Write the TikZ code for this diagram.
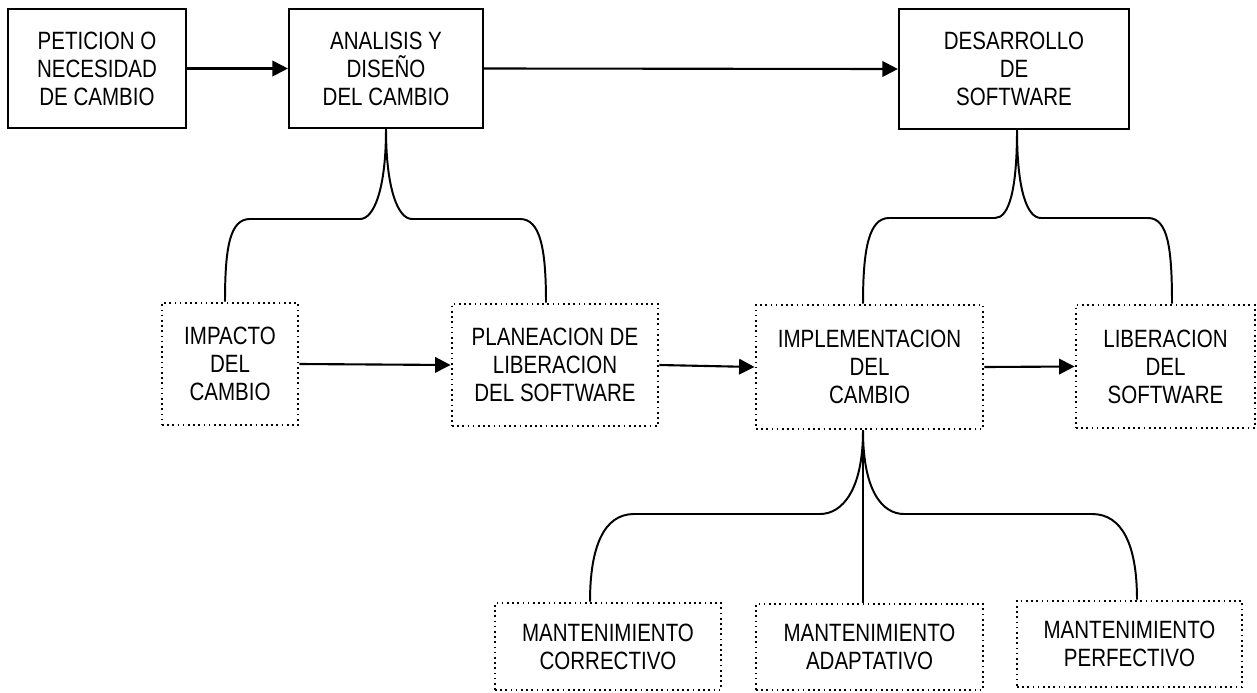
\documentclass[tikz,border=0pt]{standalone}
\usepackage{fontspec}
\setmainfont[FakeStretch=0.82]{Liberation Sans}
\usepackage{tikz}
\usetikzlibrary{arrows.meta,calc}

\tikzset{
  caja/.style={draw, line width=1.5pt, align=center, inner sep=0pt,
    font=\fontsize{17.8}{19.9}\selectfont},
  cajapunto/.style={caja, line width=2pt, dash pattern=on 1.2pt off 2.5pt},
  flecha/.style={line width=1.5pt, -{Triangle[length=11pt,width=11pt]}},
  llave/.style={line width=1.4pt},
}

\begin{document}
\begin{tikzpicture}[x=0.025cm, y=-0.025cm]
        \useasboundingbox (0,0) rectangle (1257,692);

        \node [caja, minimum width=4.45cm, minimum height=2.975cm] (pet) at (97,68.5)
          {PETICION O\\NECESIDAD\\DE CAMBIO};
        \node [caja, minimum width=4.85cm, minimum height=2.975cm] (ana) at (386,68.5)
          {ANALISIS Y\\DISEÑO\\DEL CAMBIO};
        \node [caja, minimum width=5.75cm, minimum height=3cm] (des) at (1014,69)
          {DESARROLLO\\DE\\SOFTWARE};

        \node [cajapunto, minimum width=3.4cm, minimum height=3.05cm] (imp) at (230,364)
          {IMPACTO\\DEL\\CAMBIO};
        \node [cajapunto, minimum width=5.15cm, minimum height=3.05cm] (pla) at (555,365)
          {PLANEACION DE\\LIBERACION\\DEL SOFTWARE};
        \node [cajapunto, minimum width=5.675cm, minimum height=3.1cm] (ime) at (869.5,367)
          {IMPLEMENTACION\\DEL\\CAMBIO};
        \node [cajapunto, minimum width=4.475cm, minimum height=3.075cm] (lib) at (1165.5,366.5)
          {LIBERACION\\DEL\\SOFTWARE};

        \node [cajapunto, minimum width=5.65cm, minimum height=2.175cm] (mc) at (608,646.5)
          {MANTENIMIENTO\\CORRECTIVO};
        \node [cajapunto, minimum width=5.675cm, minimum height=2.15cm] (ma) at (869.5,647)
          {MANTENIMIENTO\\ADAPTATIVO};
        \node [cajapunto, minimum width=5.625cm, minimum height=2.15cm] (mp) at (1129.5,644)
          {MANTENIMIENTO\\PERFECTIVO};

        \draw [flecha] (pet.east) -- (ana.west);
        \draw [flecha] (ana.east) -- (des.west);
        \draw [flecha] (imp.east) -- (pla.west);
        \draw [flecha] (pla.east) -- (ime.west);
        \draw [flecha] (ime.east) -- (lib.west);

        \draw [llave] (ana.south) .. controls +(0,60) and +(14,0) .. (360,219)
          -- (250,219) .. controls +(-20,0) and +(0,-55) .. ($(imp.north)+(-5,0)$);
        \draw [llave] (ana.south) .. controls +(0,60) and +(-14,0) .. (412,219)
          -- (520,219) .. controls +(20,0) and +(0,-55) .. ($(pla.north)+(-9,0)$);

        \draw [llave] ($(des.south)+(3,0)$) .. controls +(0,60) and +(14,0) .. (995,218)
          -- (889,218) .. controls +(-20,0) and +(0,-55) .. ($(ime.north)+(-6.5,0)$);
        \draw [llave] ($(des.south)+(3,0)$) .. controls +(0,60) and +(-14,0) .. (1041,218)
          -- (1148,218) .. controls +(20,0) and +(0,-55) .. ($(lib.north)+(6.5,0)$);

        \draw [llave] ($(ime.south)+(-6.5,0)$) .. controls +(0,60) and +(22,0) .. (820,514)
          -- (634,514) .. controls +(-30,0) and +(0,-55) .. ($(mc.north)+(-18,0)$);
        \draw [llave] ($(ime.south)+(-6.5,0)$) .. controls +(0,60) and +(-22,0) .. (904,514)
          -- (1092,514) .. controls +(30,0) and +(0,-55) .. ($(mp.north)+(7.5,0)$);
        \draw [llave, line width=2pt] ($(ime.south)+(-6.5,0)$) -- ($(ma.north)+(-6.5,0)$);
\end{tikzpicture}
\end{document}
